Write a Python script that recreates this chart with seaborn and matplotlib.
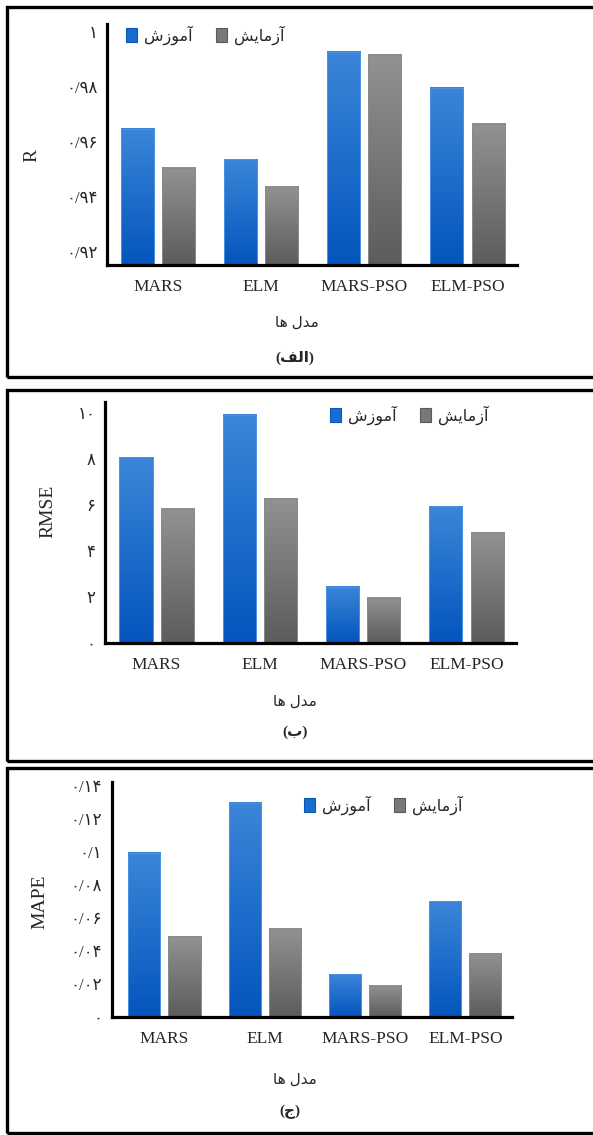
import numpy as np
import pandas as pd
import seaborn as sns
import matplotlib.pyplot as plt
from matplotlib.colors import LinearSegmentedColormap, to_rgba
from matplotlib.patches import Rectangle, Patch

# داده ها
models = ['MARS', 'ELM', 'MARS-PSO', 'ELM-PSO']
splits = ['آموزش', 'آزمایش']
r_train = [0.9648, 0.9538, 0.9928, 0.9797]
r_test = [0.9506, 0.9437, 0.9918, 0.9666]
rmse_train = [8.1, 9.95, 2.45, 5.95]
rmse_test = [5.85, 6.3, 1.98, 4.82]
mape_train = [0.0995, 0.1298, 0.026, 0.0703]
mape_test = [0.049, 0.0534, 0.0188, 0.0388]
r_ticks = [0.92, 0.94, 0.96, 0.98, 1.0]
rmse_ticks = [0, 2, 4, 6, 8, 10]
mape_ticks = [0, 0.02, 0.04, 0.06, 0.08, 0.1, 0.12, 0.14]
xlabel_text = 'مدل ها'
captions = ['(الف)', '(ب)', '(ج)']

# matplotlib حروف فارسی را به هم نمی چسباند، پس شکل حروف را دستی می سازیم
FORMS = {
    'آ': ('\uFE81', '\uFE82', None, None),
    'ا': ('\uFE8D', '\uFE8E', None, None),
    'ب': ('\uFE8F', '\uFE90', '\uFE91', '\uFE92'),
    'ج': ('\uFE9D', '\uFE9E', '\uFE9F', '\uFEA0'),
    'د': ('\uFEA9', '\uFEAA', None, None),
    'ز': ('\uFEAF', '\uFEB0', None, None),
    'ش': ('\uFEB5', '\uFEB6', '\uFEB7', '\uFEB8'),
    'ف': ('\uFED1', '\uFED2', '\uFED3', '\uFED4'),
    'ل': ('\uFEDD', '\uFEDE', '\uFEDF', '\uFEE0'),
    'م': ('\uFEE1', '\uFEE2', '\uFEE3', '\uFEE4'),
    'ه': ('\uFEE9', '\uFEEA', '\uFEEB', '\uFEEC'),
    'و': ('\uFEED', '\uFEEE', None, None),
    'ی': ('\uFEEF', '\uFEF0', '\uFEF3', '\uFEF4'),
}


def fa(s):
    out = []
    for i, ch in enumerate(s):
        if ch not in FORMS:
            out.append(ch)
            continue
        prev = s[i - 1] if i > 0 else ''
        nxt = s[i + 1] if i + 1 < len(s) else ''
        jp = prev in FORMS and FORMS[prev][2] is not None
        jn = FORMS[ch][2] is not None and nxt in FORMS
        iso, fin, ini, med = FORMS[ch]
        out.append(med if (jp and jn) else fin if jp else ini if jn else iso)
    mirror = {'(': ')', ')': '('}
    return ''.join(mirror.get(c, c) for c in reversed(out))


def fa_num(v):
    s = f'{v:g}'
    return s.translate(str.maketrans('0123456789.', '۰۱۲۳۴۵۶۷۸۹/'))


sns.set_style('white')
plt.rcParams['font.family'] = ['Liberation Serif', 'DejaVu Sans']

W, H = 593, 1135
fig = plt.figure(figsize=(W / 100, H / 100), dpi=100)

blue = '#1a6dd0'
gray = '#787878'
grad = {
    blue: LinearSegmentedColormap.from_list('b', ['#0455bd', '#3b86d9']),
    gray: LinearSegmentedColormap.from_list('g', ['#5c5c5c', '#929292']),
}
edge = {blue: '#4a92e2', gray: '#8a8a8a'}


def fx(x):
    return x / W


def fy(y):
    return 1 - y / H


def panel(box, train, test, ylim, xlim, ticks, ylabel, ylab_xy, xlab_xy,
          caption, cap_xy, leg_xy):
    l, t, r, b = box
    ax = fig.add_axes([fx(l), fy(b), (r - l) / W, (b - t) / H])
    df = pd.DataFrame({
        'model': models * 2,
        'split': [splits[0]] * 4 + [splits[1]] * 4,
        'value': list(train) + list(test),
    })
    sns.barplot(data=df, x='model', y='value', hue='split', hue_order=splits,
                palette=[blue, gray], width=0.8, gap=0.2, legend=False,
                saturation=1, ax=ax)
    # گرادیان روی ستون ها
    for p in list(ax.patches):
        fc = p.get_facecolor()
        key = blue if np.allclose(fc, to_rgba(blue)) else gray
        x0, w = p.get_x(), p.get_width()
        y1 = p.get_y() + p.get_height()
        y0 = max(p.get_y(), ylim[0])
        z = p.get_zorder()
        ax.imshow(np.linspace(0, 1, 256).reshape(-1, 1), cmap=grad[key],
                  origin='lower', aspect='auto', extent=(x0, x0 + w, y0, y1),
                  zorder=z + 0.1)
        ax.add_patch(Rectangle((x0, y0), w, y1 - y0, fill=False,
                               edgecolor=edge[key], linewidth=0.7, zorder=z + 0.2))
    ax.set_xlim(*xlim)
    ax.set_ylim(*ylim)
    ax.set_yticks(ticks)
    ax.set_yticklabels([fa_num(v) for v in ticks], fontsize=12)
    ax.set_xticks(range(len(models)))
    ax.set_xticklabels(models, fontsize=12.5)
    ax.tick_params(axis='both', length=0)
    ax.tick_params(axis='y', pad=7)
    ax.tick_params(axis='x', pad=10)
    for s in ['top', 'right']:
        ax.spines[s].set_visible(False)
    for s in ['left', 'bottom']:
        ax.spines[s].set_linewidth(2.3)
        ax.spines[s].set_color('black')
        ax.spines[s].set_zorder(5)
    ax.set_ylabel(ylabel, fontsize=14)
    ax.yaxis.set_label_coords((ylab_xy[0] - l) / (r - l), (b - ylab_xy[1]) / (b - t))
    ax.set_xlabel(fa(xlabel_text), fontsize=11)
    ax.xaxis.set_label_coords((xlab_xy[0] - l) / (r - l), (b - xlab_xy[1]) / (b - t))
    ax.xaxis.label.set_va('center')
    ax.yaxis.label.set_va('center')
    fig.text(fx(cap_xy[0]), fy(cap_xy[1]), fa(caption), fontsize=11,
             fontweight='bold', ha='center', va='center')
    handles = [Patch(facecolor=blue, edgecolor='#0b55b5', linewidth=0.8),
               Patch(facecolor=gray, edgecolor='#5a5a5a', linewidth=0.8)]
    ax.legend(handles, [fa(s) for s in splits], ncol=2, frameon=False,
              loc='center left', bbox_to_anchor=(fx(leg_xy[0]), fy(leg_xy[1])),
              bbox_transform=fig.transFigure, borderpad=0, borderaxespad=0,
              handlelength=0.7, handleheight=0.9, handletextpad=0.4,
              columnspacing=1.5, prop={'size': 11.5})
    return ax


panel((107, 24, 517, 265), r_train, r_test, (0.9153, 1.0029), (-0.494, 3.48),
      r_ticks, 'R', (32, 155), (297, 323), captions[0], (295, 358), (126, 35))
panel((105, 402, 516, 643), rmse_train, rmse_test, (0, 10.5), (-0.5, 3.48),
      rmse_ticks, 'RMSE', (48, 511), (295, 702), captions[1], (295, 732), (330, 415))
panel((112, 782, 512, 1017), mape_train, mape_test, (0, 0.1425), (-0.523, 3.465),
      mape_ticks, 'MAPE', (40, 902), (295, 1080), captions[2], (290, 1112), (304, 805))

# قاب دور هر نمودار
for top, bottom in [(7, 377), (389.5, 760.5), (767.5, 1133)]:
    fig.patches.append(Rectangle((fx(7), fy(bottom)), fx(600 - 7), (bottom - top) / H,
                                 transform=fig.transFigure, fill=False,
                                 edgecolor='black', linewidth=2.4))

fig.savefig('out.png', dpi=100)
